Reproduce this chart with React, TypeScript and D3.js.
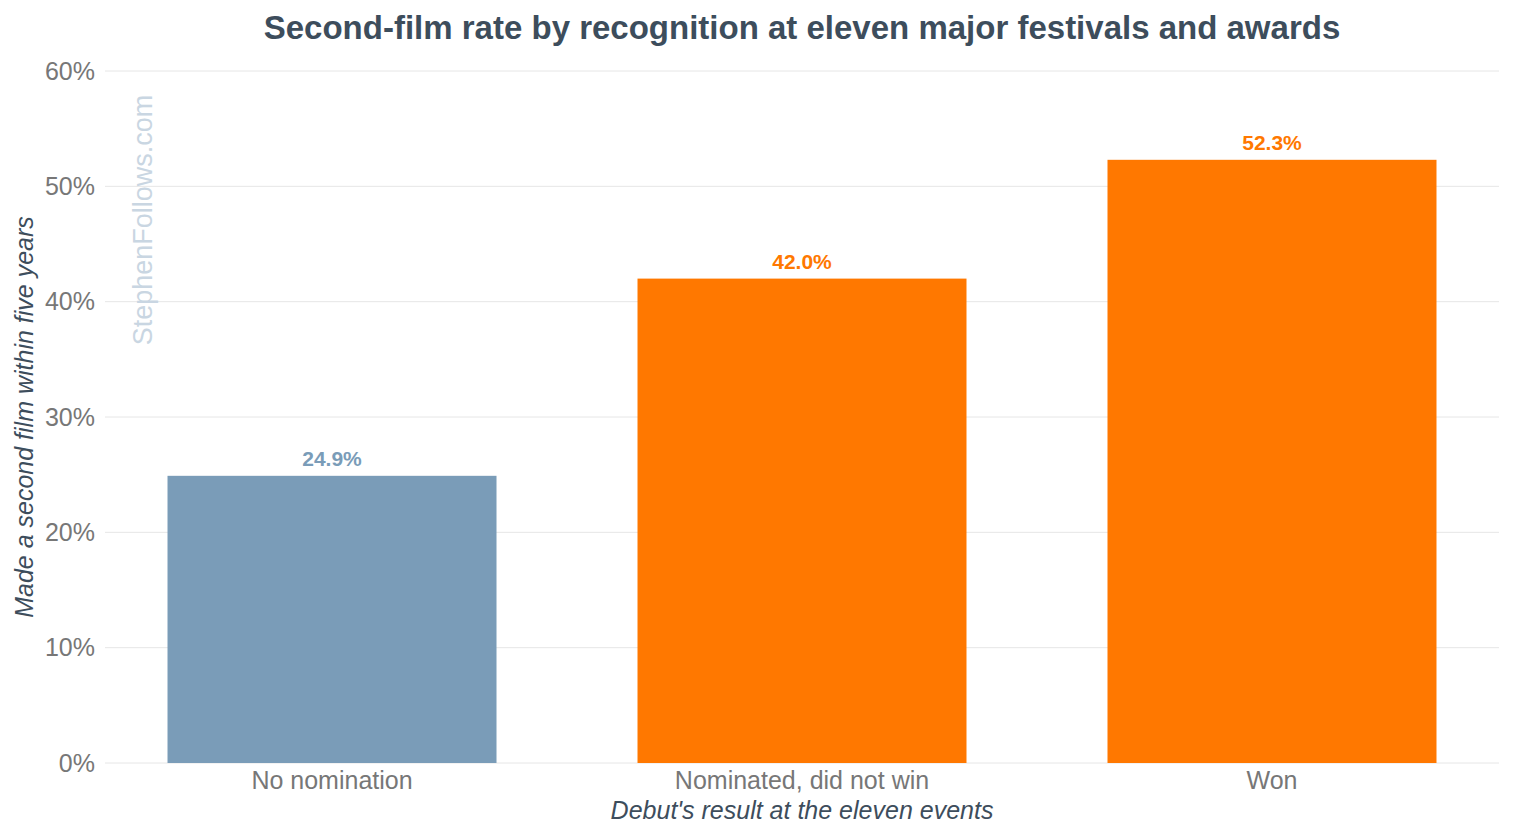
import * as d3 from "d3";
import {useEffect, useRef} from "react";

const categories = ["No nomination", "Nominated, did not win", "Won"];
const rates = [24.9, 42.0, 52.3];
const barColors = ["#7a9cb8", "#ff7800", "#ff7800"];
const yTicks = [0, 10, 20, 30, 40, 50, 60];

const width = 1513;
const height = 840;
const margin = {top: 71, right: 14, bottom: 77, left: 105};

const App = () => {
    const svgRef = useRef(null)

    useEffect(() => {
        const svg = d3.select(svgRef.current)
        svg.selectAll("*").remove()
        const font = "'Liberation Sans', Arial, sans-serif"

        const x = d3.scaleBand()
            .domain(categories)
            .range([margin.left, width - margin.right])
            .paddingInner(0.3)
            .paddingOuter(0.133);

        const y = d3.scaleLinear()
            .domain([0, 60])
            .range([height - margin.bottom, margin.top]);

        // grid
        svg.append("g")
            .selectAll("line")
            .data(yTicks)
            .join("line")
            .attr("x1", margin.left)
            .attr("x2", width - margin.right)
            .attr("y1", d => y(d))
            .attr("y2", d => y(d))
            .attr("stroke", "#e6e6e6")
            .attr("stroke-width", 1);

        // y tick labels
        svg.append("g")
            .selectAll("text")
            .data(yTicks)
            .join("text")
            .attr("x", margin.left - 10)
            .attr("y", d => y(d))
            .attr("dy", "0.35em")
            .attr("text-anchor", "end")
            .attr("font-family", font)
            .attr("font-size", 25)
            .attr("fill", "#777777")
            .text(d => d + "%");

        // watermark
        svg.append("text")
            .attr("transform", `translate(152,220) rotate(-90)`)
            .attr("text-anchor", "middle")
            .attr("font-family", font)
            .attr("font-size", 27)
            .attr("fill", "#c9d6e2")
            .text("StephenFollows.com");

        // bars
        const data = categories.map((c, i) => ({c, v: rates[i], color: barColors[i]}))
        svg.append("g")
            .selectAll("rect")
            .data(data)
            .join("rect")
            .attr("x", d => x(d.c))
            .attr("y", d => y(d.v))
            .attr("width", x.bandwidth())
            .attr("height", d => y(0) - y(d.v))
            .attr("fill", d => d.color);

        // value labels
        svg.append("g")
            .selectAll("text")
            .data(data)
            .join("text")
            .attr("x", d => x(d.c) + x.bandwidth() / 2)
            .attr("y", d => y(d.v) - 10)
            .attr("text-anchor", "middle")
            .attr("font-family", font)
            .attr("font-size", 21)
            .attr("font-weight", "bold")
            .attr("fill", d => d.color)
            .text(d => d.v.toFixed(1) + "%");

        // x tick labels
        svg.append("g")
            .selectAll("text")
            .data(categories)
            .join("text")
            .attr("x", d => x(d) + x.bandwidth() / 2)
            .attr("y", y(0) + 26)
            .attr("text-anchor", "middle")
            .attr("font-family", font)
            .attr("font-size", 25)
            .attr("fill", "#777777")
            .text(d => d);

        const cx = (margin.left + width - margin.right) / 2

        // axis titles
        svg.append("text")
            .attr("x", cx)
            .attr("y", 819)
            .attr("text-anchor", "middle")
            .attr("font-family", font)
            .attr("font-size", 25)
            .attr("font-style", "italic")
            .attr("fill", "#3d4d5c")
            .text("Debut's result at the eleven events");

        svg.append("text")
            .attr("transform", `translate(33,${(margin.top + height - margin.bottom) / 2}) rotate(-90)`)
            .attr("text-anchor", "middle")
            .attr("font-family", font)
            .attr("font-size", 25)
            .attr("font-style", "italic")
            .attr("fill", "#3d4d5c")
            .text("Made a second film within five years");

        // title
        svg.append("text")
            .attr("x", cx)
            .attr("y", 39)
            .attr("text-anchor", "middle")
            .attr("font-family", font)
            .attr("font-size", 33)
            .attr("font-weight", "bold")
            .attr("fill", "#3d4d5c")
            .text("Second-film rate by recognition at eleven major festivals and awards");
    }, []);

    return <svg ref={svgRef} width={width} height={height}
                style={{position: "absolute", left: 0, top: 0, background: "#fff"}}/>
}

export default App
